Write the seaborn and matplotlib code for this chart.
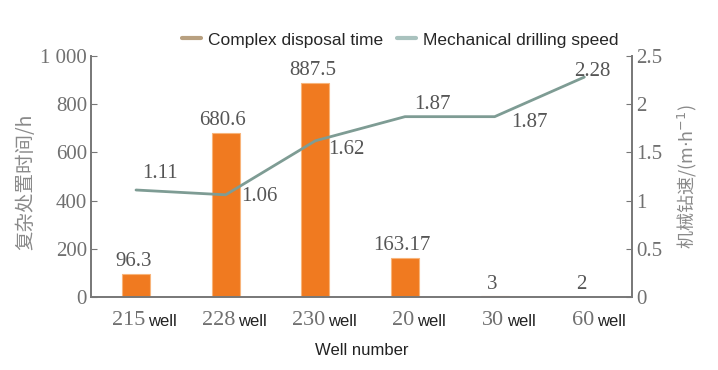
import numpy as np
import pandas as pd
import matplotlib
matplotlib.use("Agg")
import matplotlib.pyplot as plt
from matplotlib.lines import Line2D
import seaborn as sns

# ---- data ----
wells = ["215", "228", "230", "20", "30", "60"]
disposal_time = [96.3, 680.6, 887.5, 163.17, 3, 2]
disposal_labels = ["96.3", "680.6", "887.5", "163.17", "3", "2"]
drill_speed = [1.11, 1.06, 1.62, 1.87, 1.87, 2.28]
speed_labels = ["1.11", "1.06", "1.62", "1.87", "1.87", "2.28"]
left_ticks = [0, 200, 400, 600, 800, 1000]
left_ticklabels = ["0", "200", "400", "600", "800", "1 000"]
right_ticks = [0, 0.5, 1, 1.5, 2, 2.5]
right_ticklabels = ["0", "0.5", "1", "1.5", "2", "2.5"]

sns.set_style("white")
plt.rcParams["font.family"] = ["Noto Sans CJK SC", "DejaVu Sans"]

SERIF = "Liberation Serif"
SANS = "Liberation Sans"
BAR_C = "#F07A20"
LINE_C = "#7E9C94"
AX_C = "#777777"
TXT_C = "#555555"

df = pd.DataFrame({"well": wells, "time": disposal_time,
                   "pos": np.arange(len(wells)), "speed": drill_speed})

fig = plt.figure(figsize=(7.18, 3.70), dpi=100)
ax = fig.add_axes([0.127, 0.197, 0.753, 0.652])

sns.barplot(data=df, x="well", y="time", order=wells, color=BAR_C,
            saturation=1, width=0.31, ax=ax, edgecolor="#F8B47A", linewidth=0.8)
ax.set_xlim(-0.5, 5.53)
ax.set_ylim(0, 1000)

ax2 = ax.twinx()
sns.lineplot(data=df, x="pos", y="speed", color=LINE_C, linewidth=2, ax=ax2)
ax2.set_ylim(0, 2.5)
ax2.set_xlim(-0.5, 5.53)

# spines / ticks
for a in (ax, ax2):
    for s in ["left", "right", "bottom"]:
        a.spines[s].set_color(AX_C)
        a.spines[s].set_linewidth(1.4)
    a.spines["top"].set_visible(False)
ax.spines["right"].set_visible(False)
ax2.spines["left"].set_visible(False)
ax2.spines["bottom"].set_visible(False)

ax.set_yticks(left_ticks)
ax.set_yticklabels(left_ticklabels, fontfamily=SERIF, fontsize=15, color="#707070")
ax.tick_params(axis="y", direction="in", length=4, color=AX_C, pad=3)
ax2.set_yticks(right_ticks)
ax2.set_yticklabels(right_ticklabels, fontfamily=SERIF, fontsize=15, color="#707070")
ax2.tick_params(axis="y", direction="in", length=4, color=AX_C, pad=3)

ax.set_xticks([0.41, 1.35, 2.30, 3.25, 4.18])
ax.set_xticklabels([])
ax.tick_params(axis="x", direction="in", length=4, color=AX_C)
ax2.set_xticks([])
ax2.set_xlabel("")

# x category labels: serif number + sans "well"
for i, w in enumerate(wells):
    ax.annotate(w, xy=(i, 0), xycoords=("data", "axes fraction"),
                xytext=(7, -10), textcoords="offset points",
                ha="right", va="top", fontfamily=SERIF, fontsize=16, color="#707070")
    ax.annotate("well", xy=(i, 0), xycoords=("data", "axes fraction"),
                xytext=(9, -12), textcoords="offset points",
                ha="left", va="top", fontfamily=SANS, fontsize=12, color="#222222")

ax.set_xlabel("Well number", fontfamily=SANS, fontsize=12, color="#222222", labelpad=33)
ax.set_ylabel("复杂处置时间/h", fontsize=14, color="#8a8a8a")
ax.yaxis.set_label_coords(-0.102, 0.48)
ax2.set_ylabel("机械钻速/(m$\\cdot$h$^{-1}$)", fontsize=13, color="#8a8a8a", labelpad=10)

# bar labels
for i, (v, lab) in enumerate(zip(disposal_time, disposal_labels)):
    ax.annotate(lab, xy=(i, v), xytext=(-2, 2), textcoords="offset points",
                ha="center", va="bottom", fontfamily=SERIF, fontsize=15, color=TXT_C)

# line labels (offsets in points)
offsets = [(17, 12), (24, -1), (22, -6), (20, 9), (25, -4), (6, 4)]
for i, (v, lab) in enumerate(zip(drill_speed, speed_labels)):
    ax2.annotate(lab, xy=(i, v), xytext=offsets[i], textcoords="offset points",
                 ha="center", va="center", fontfamily=SERIF, fontsize=15, color=TXT_C)

handles = [Line2D([0], [0], color="#B8A080", lw=3),
           Line2D([0], [0], color="#A9C2BE", lw=3)]
fig.legend(handles, ["Complex disposal time", "Mechanical drilling speed"],
           loc="center", bbox_to_anchor=(400 / 718, 1 - 40 / 370), ncol=2,
           frameon=False, handlelength=1.1, handletextpad=0.4, columnspacing=0.8,
           prop={"family": SANS, "size": 12.5})

fig.savefig("out.png", dpi=100)
